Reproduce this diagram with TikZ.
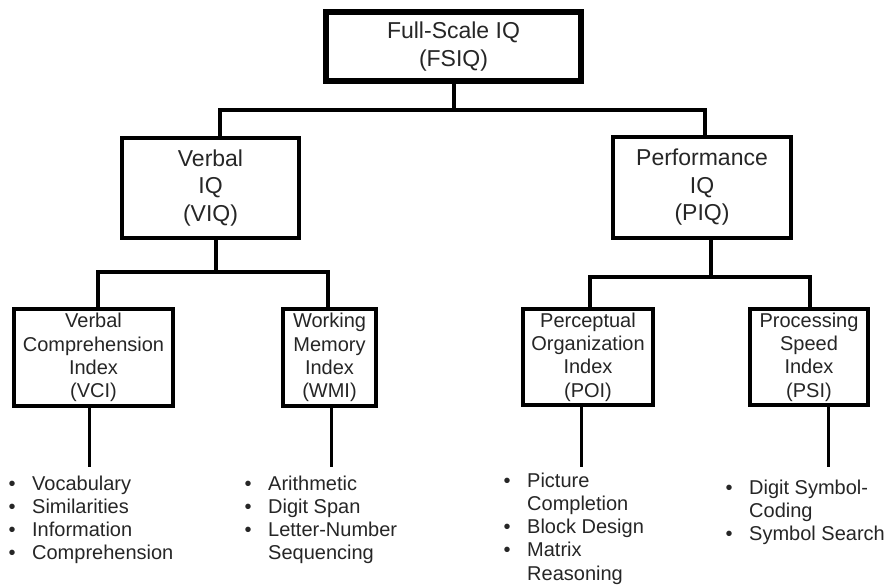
\documentclass[tikz,border=0pt]{standalone}
\usepackage{fontspec}
\setmainfont{Liberation Sans}
\definecolor{txt}{gray}{0.15}
% bullet hung to the left of a list item
\newcommand\bul{\makebox[0pt][r]{\textbullet\hspace{16.5pt}}}
\begin{document}
\begin{tikzpicture}[x=1pt,y=-1pt,
  box/.style={draw=black, fill=white, line width=4pt, inner sep=0pt, align=center,
              text=txt, font=\fontsize{20}{23.3}\selectfont},
  topbox/.style={box, line width=6pt, font=\fontsize{23}{28}\selectfont},
  midbox/.style={box, font=\fontsize{23}{27.5}\selectfont},
  conn/.style={draw=black, line width=4pt},
  stem/.style={draw=black, line width=3pt},
  lst/.style={inner sep=0pt, anchor=base west, text=txt, font=\fontsize{20}{23.3}\selectfont},
]
\fill[white] (0,0) rectangle (891,585);
\useasboundingbox (0,0) rectangle (891,585);

% boxes
\node[topbox, minimum width=255pt, minimum height=69pt] (fsiq) at (453.5,46.5) {Full-Scale IQ\\(FSIQ)};
\node[midbox, minimum width=177pt, minimum height=100pt] (viq) at (210.5,188) {Verbal\\IQ\\(VIQ)};
\node[midbox, minimum width=178pt, minimum height=101pt] (piq) at (702,187.5) {Performance\\IQ\\(PIQ)};
\node[box, minimum width=159pt, minimum height=97pt] (vci) at (93.5,357.5) {Verbal\\Comprehension\\Index\\(VCI)};
\node[box, minimum width=93pt, minimum height=97pt] (wmi) at (329.5,357.5) {Working\\Memory\\Index\\(WMI)};
\node[box, minimum width=130pt, minimum height=96pt] (poi) at (588,357) {Perceptual\\Organization\\Index\\(POI)};
\node[box, minimum width=118pt, minimum height=96pt] (psi) at (809,357) {Processing\\Speed\\Index\\(PSI)};

% bus levels
\coordinate (busTop) at (0,110);
\coordinate (busV) at (0,272);
\coordinate (busP) at (0,277);
\coordinate (stemEnd) at (0,467);

% FSIQ -> VIQ, PIQ
\draw[conn] (fsiq.south) -- (fsiq.south |- busTop);
\draw[conn] ([xshift=9.5pt]viq.north) |- (fsiq.south |- busTop) -| ([xshift=3pt]piq.north);

% VIQ -> VCI, WMI
\draw[conn] ([xshift=5.5pt]viq.south) -- ([xshift=5.5pt]viq.south |- busV);
\draw[conn] ([xshift=4.5pt]vci.north) |- ([xshift=5.5pt]viq.south |- busV) -| ([xshift=-1.5pt]wmi.north);

% PIQ -> POI, PSI
\draw[conn] ([xshift=9pt]piq.south) -- ([xshift=9pt]piq.south |- busP);
\draw[conn] ([xshift=2pt]poi.north) |- ([xshift=9pt]piq.south |- busP) -| ([xshift=1pt]psi.north);

% stems down to the subtest lists
\draw[stem] ([xshift=-4.5pt]vci.south) -- ([xshift=-4.5pt]vci.south |- stemEnd);
\draw[stem] ([xshift=1.5pt]wmi.south) -- ([xshift=1.5pt]wmi.south |- stemEnd);
\draw[stem] ([xshift=-7pt]poi.south) -- ([xshift=-7pt]poi.south |- stemEnd);
\draw[stem] ([xshift=19pt]psi.south) -- ([xshift=19pt]psi.south |- stemEnd);

% subtest lists
\node[lst] (vcilist) at (32,490) {\begin{tabular}[t]{@{}l@{}}
  \bul Vocabulary\\ \bul Similarities\\ \bul Information\\ \bul Comprehension\end{tabular}};
\node[lst] (wmilist) at (268,490) {\begin{tabular}[t]{@{}l@{}}
  \bul Arithmetic\\ \bul Digit Span\\ \bul Letter-Number\\ Sequencing\end{tabular}};
\node[lst] (poilist) at (527,487) {\begin{tabular}[t]{@{}l@{}}
  \bul Picture\\ Completion\\ \bul Block Design\\ \bul Matrix\\ Reasoning\end{tabular}};
\node[lst] (psilist) at (749,494) {\begin{tabular}[t]{@{}l@{}}
  \bul Digit Symbol-\\ Coding\\ \bul Symbol Search\end{tabular}};
\end{tikzpicture}
\end{document}
